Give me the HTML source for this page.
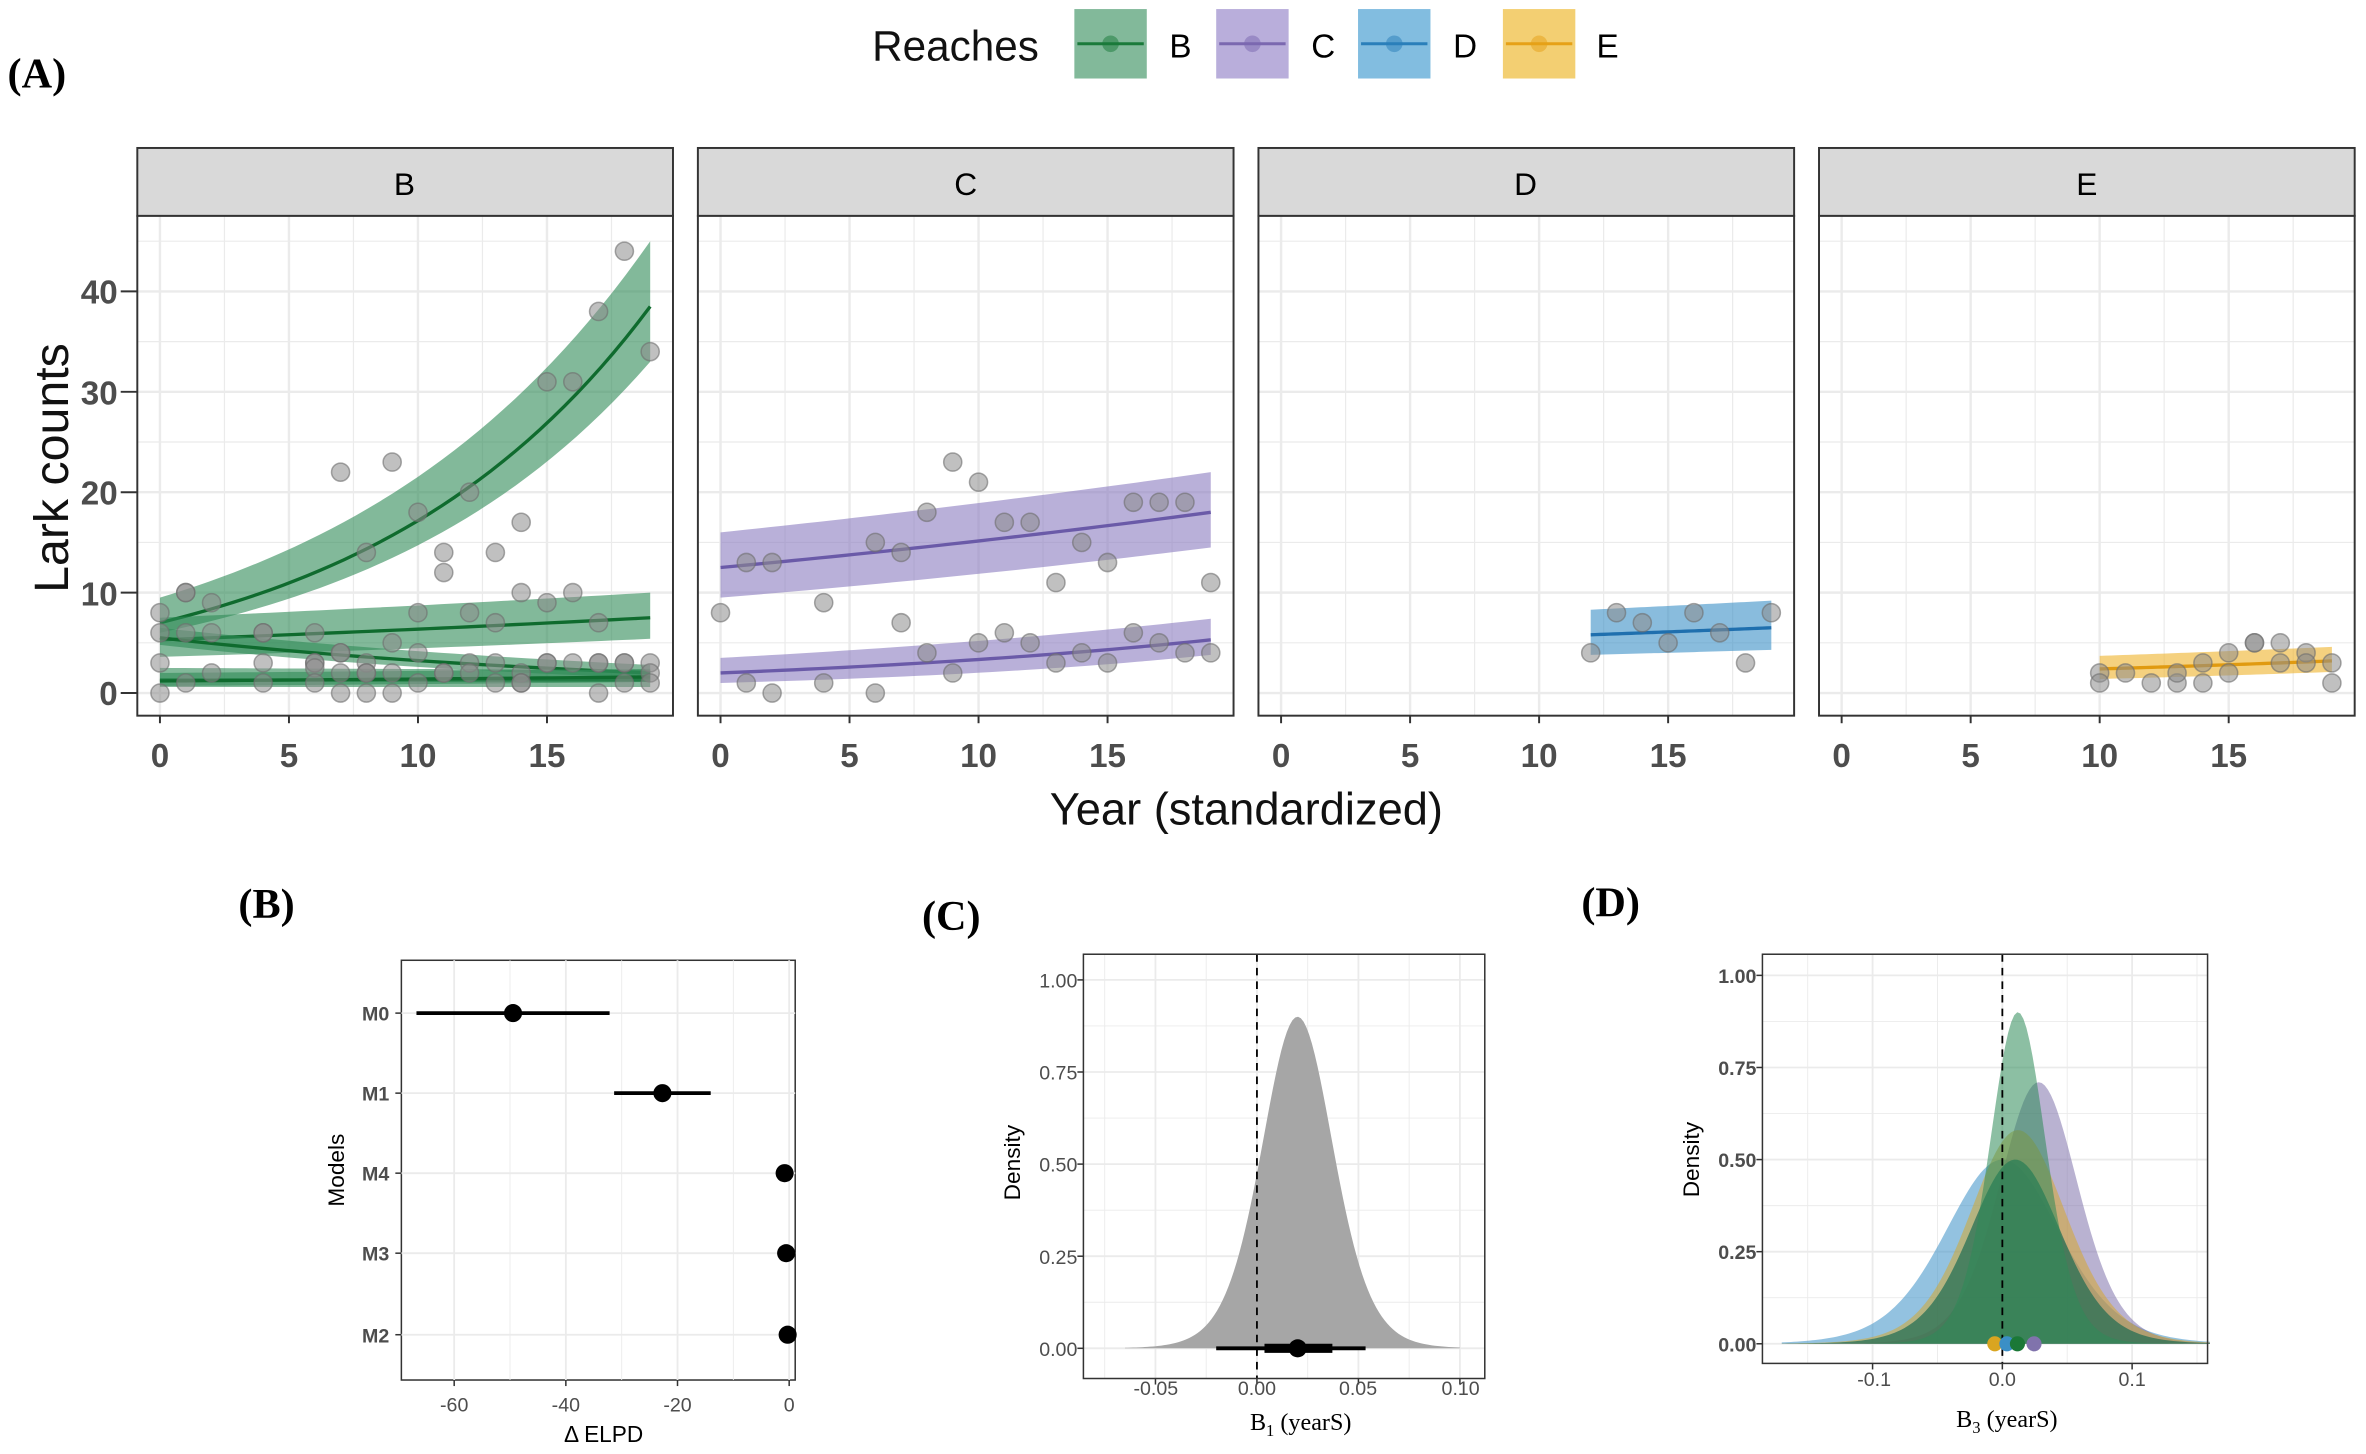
<!DOCTYPE html>
<html><head><meta charset="utf-8"><style>
html,body{margin:0;padding:0;background:#fff;}
svg{display:block;}
text{font-family:"Liberation Sans",sans-serif;}
.s{font-family:"Liberation Serif",serif;font-weight:bold;}
.tk{font-size:22px;font-weight:bold;fill:#4d4d4d;}
.tk2{font-size:13px;fill:#4d4d4d;}
</style></head><body>
<svg id="sv" width="2366" height="1454" viewBox="0 0 1568 963" preserveAspectRatio="none" xmlns="http://www.w3.org/2000/svg">
<rect width="1568" height="963" fill="#fff"/>
<g id="g"></g>
<text class="s" x="5" y="58" font-size="28">(A)</text>
<text x="578" y="40" font-size="28" fill="#111">Reaches</text>
<text x="775" y="38" font-size="22">B</text>
<text x="869" y="38" font-size="22">C</text>
<text x="963" y="38" font-size="22">D</text>
<text x="1058" y="38" font-size="22">E</text>
<text x="268" y="129" font-size="21" text-anchor="middle">B</text>
<text x="640" y="129" font-size="21" text-anchor="middle">C</text>
<text x="1011" y="129" font-size="21" text-anchor="middle">D</text>
<text x="1383" y="129" font-size="21" text-anchor="middle">E</text>
<g class="tk" text-anchor="end">
<text x="78" y="467">0</text><text x="78" y="401">10</text><text x="78" y="334">20</text><text x="78" y="268">30</text><text x="78" y="201">40</text>
</g>
<g class="tk" text-anchor="middle" id="xt"></g>
<text x="0" y="0" font-size="32" transform="translate(45,310) rotate(-90)" text-anchor="middle" fill="#111">Lark counts</text>
<text x="826" y="546" font-size="30" text-anchor="middle" fill="#111">Year (standardized)</text>
<text class="s" x="158" y="608" font-size="28">(B)</text>
<text class="s" x="611" y="616" font-size="28">(C)</text>
<text class="s" x="1048" y="607" font-size="28">(D)</text>
<g class="tk2" font-weight="bold" text-anchor="end">
<text x="258" y="676">M0</text><text x="258" y="729">M1</text><text x="258" y="782">M4</text><text x="258" y="835">M3</text><text x="258" y="889">M2</text>
</g>
<g class="tk2" text-anchor="middle">
<text x="301" y="935">-60</text><text x="375" y="935">-40</text><text x="449" y="935">-20</text><text x="523" y="935">0</text>
</g>
<text x="400" y="955" font-size="15" text-anchor="middle">Δ ELPD</text>
<text font-size="15" transform="translate(228,775) rotate(-90)" text-anchor="middle">Models</text>
<g class="tk2" text-anchor="end">
<text x="714" y="654">1.00</text><text x="714" y="715">0.75</text><text x="714" y="776">0.50</text><text x="714" y="837">0.25</text><text x="714" y="898">0.00</text>
</g>
<g class="tk2" text-anchor="middle">
<text x="766" y="924">-0.05</text><text x="833" y="924">0.00</text><text x="900" y="924">0.05</text><text x="968" y="924">0.10</text>
</g>
<text x="862" y="947" font-size="16" text-anchor="middle" class="s" style="font-weight:normal">B<tspan font-size="11" dy="4">1</tspan><tspan dy="-4"> (yearS)</tspan></text>
<text font-size="15" transform="translate(676,770) rotate(-90)" text-anchor="middle">Density</text>
<g class="tk2" font-weight="bold" text-anchor="end">
<text x="1164" y="651">1.00</text><text x="1164" y="712">0.75</text><text x="1164" y="773">0.50</text><text x="1164" y="834">0.25</text><text x="1164" y="895">0.00</text>
</g>
<g class="tk2" text-anchor="middle">
<text x="1242" y="918">-0.1</text><text x="1327" y="918">0.0</text><text x="1413" y="918">0.1</text>
</g>
<text x="1330" y="945" font-size="16" text-anchor="middle" class="s" style="font-weight:normal">B<tspan font-size="11" dy="4">3</tspan><tspan dy="-4"> (yearS)</tspan></text>
<text font-size="15" transform="translate(1126,768) rotate(-90)" text-anchor="middle">Density</text>
</svg>
<script>
var NS="http://www.w3.org/2000/svg",G=document.getElementById('g');
function el(t,a,p){var e=document.createElementNS(NS,t);for(var k in a)e.setAttribute(k,a[k]);(p||G).appendChild(e);return e;}
function ln(x1,y1,x2,y2,c,w,extra){var a={x1:x1,y1:y1,x2:x2,y2:y2,stroke:c,'stroke-width':w};for(var k in extra)a[k]=extra[k];return el('line',a);}
var lc=[["#2e8b57","#1a7a3a",712],["#b9aedb","#7b68b0",806],["#82bde0","#2a7fba",900],["#f3cf72","#e6a117",996]];
lc.forEach(function(c){el('rect',{x:c[2],y:6,width:48,height:46,fill:c[0],opacity:c[2]==712?0.6:1});ln(c[2]+2,29,c[2]+46,29,c[1],2);el('circle',{cx:c[2]+24,cy:29,r:5,fill:c[1],opacity:0.5,stroke:c[1]});});
var cols=[["#2e8b57","#0f6b2e"],["#8a7cc0","#6a5aa8"],["#3b8fc6","#1f6fae"],["#eeb22a","#e09a10"]];
var data=[
[[0,8],[0,6],[0,3],[0,0],[1,10],[1,10],[1,6],[1,1],[2,9],[2,6],[2,2],[4,6],[4,6],[4,3],[4,1],[6,6],[6,3],[6,3],[6,2.5],[6,1],[7,22],[7,4],[7,4],[7,2],[7,0],[8,14],[8,3],[8,2],[8,2],[8,0],[9,23],[9,5],[9,2],[9,0],[10,18],[10,8],[10,4],[10,1],[11,14],[11,12],[11,2],[11,2],[12,20],[12,8],[12,3],[12,2],[13,14],[13,7],[13,3],[13,1],[14,17],[14,10],[14,2],[14,1],[14,1],[15,31],[15,9],[15,3],[15,3],[16,31],[16,10],[16,3],[17,38],[17,7],[17,3],[17,3],[17,0],[18,44],[18,3],[18,3],[18,1],[19,34],[19,3],[19,2],[19,1]],
[[0,8],[1,13],[1,1],[2,13],[2,0],[4,9],[4,1],[6,15],[6,0],[7,14],[7,7],[8,18],[8,4],[9,23],[9,2],[10,21],[10,5],[11,17],[11,6],[12,17],[12,5],[13,11],[13,3],[14,15],[14,4],[15,13],[15,3],[16,19],[16,6],[17,19],[17,5],[18,19],[18,4],[19,11],[19,4]],
[[12,4],[13,8],[14,7],[15,5],[16,8],[17,6],[18,3],[19,8]],
[[10,2],[10,1],[11,2],[12,1],[13,1],[13,2],[14,3],[14,1],[15,4],[15,2],[16,5],[16,5],[17,5],[17,3],[18,4],[18,3],[19,3],[19,1]]];
var fits=[
[[0,19,7,38.5,6,33,9.5,45],[0,19,5.3,7.5,3.6,5.4,7.5,10],[0,19,5.5,2,4.8,1.5,6.5,2.8],[0,19,1.3,1.3,0.6,0.6,2.5,2.3],[0,19,1.2,1.6,0.7,1.1,2,2.4]],
[[0,19,12.5,18,9.5,14.5,16,22],[0,19,2,5.3,1,3.8,3.5,7.4]],
[[12,19,5.8,6.5,3.8,4.3,8.3,9.2]],
[[10,19,2.4,3.2,1.4,2.1,3.7,4.6]]];
var xt=document.getElementById('xt');
for(var i=0;i<4;i++){
 var x0=91+371.5*i;
 var X=function(t){return x0+15+17.1*t;},Y=function(v){return 459-6.65*v;};
 el('rect',{x:x0,y:98,width:355,height:45,fill:"#d9d9d9",stroke:"#333","stroke-width":1.3});
 el('rect',{x:x0,y:143,width:355,height:331,fill:"#fff"});
 for(var t=-2.5;t<=20;t+=2.5){var xx=X(t);if(xx>x0&&xx<x0+355)ln(xx,143,xx,474,"#ebebeb",t%5==0?1.6:0.8);}
 for(var v=0;v<=45;v+=5){ln(x0,Y(v),x0+355,Y(v),"#ebebeb",v%10==0?1.6:0.8);}
 fits[i].forEach(function(f){var p="",q="",m="";for(var k=0;k<=40;k++){var t=f[0]+(f[1]-f[0])*k/40,r=k/40;
  var lo=f[4]*Math.pow(f[5]/f[4],r),hi=f[6]*Math.pow(f[7]/f[6],r),md=f[2]*Math.pow(f[3]/f[2],r);
  p+=(k?"L":"M")+X(t)+","+Y(hi);q="L"+X(t)+","+Y(lo)+q;m+=(k?"L":"M")+X(t)+","+Y(md);}
  el('path',{d:p+q+"Z",fill:cols[i][0],opacity:0.6});el('path',{d:m,fill:"none",stroke:cols[i][1],"stroke-width":2.2});});
 data[i].forEach(function(d){el('circle',{cx:X(d[0]),cy:Y(d[1]),r:6,fill:"#8c8c8c","fill-opacity":0.55,stroke:"#6e6e6e","stroke-opacity":0.6,"stroke-width":1});});
 el('rect',{x:x0,y:143,width:355,height:331,fill:"none",stroke:"#333","stroke-width":1.3});
 [0,5,10,15].forEach(function(t){ln(X(t),474,X(t),479,"#333",1.3);var e=el('text',{x:X(t),y:508},xt);e.textContent=t;});
}
[0,10,20,30,40].forEach(function(v){ln(80,459-6.65*v,91,459-6.65*v,"#333",1.3);});
var bx=function(v){return 523+3.7*v;};
el('rect',{x:266,y:636,width:261,height:278,fill:"#fff",stroke:"#333","stroke-width":1});
[-60,-50,-40,-30,-20,-10,0].forEach(function(v){ln(bx(v),636,bx(v),914,"#ebebeb",v%20==0?1.2:0.6);});
[671,724,777,830,884].forEach(function(y){ln(266,y,527,y,"#ebebeb",1.2);ln(262,y,266,y,"#333",1);});
[-60,-40,-20,0].forEach(function(v){ln(bx(v),914,bx(v),918,"#333",1);});
ln(276,671,404,671,"#000",2.5);el('circle',{cx:340,cy:671,r:6});
ln(407,724,471,724,"#000",2.5);el('circle',{cx:439,cy:724,r:6});
el('circle',{cx:520,cy:777,r:6});el('circle',{cx:521,cy:830,r:6});el('circle',{cx:522,cy:884,r:6});
var cx=function(v){return 833+1345*v;},cy=function(d){return 893-244*d;};
el('rect',{x:718,y:632,width:266,height:281,fill:"#fff"});
[-0.075,-0.05,-0.025,0,0.025,0.05,0.075,0.1].forEach(function(v,j){ln(cx(v),632,cx(v),913,"#ebebeb",j%2?1.2:0.6);});
[0,0.125,0.25,0.375,0.5,0.625,0.75,0.875,1].forEach(function(d,j){ln(718,cy(d),984,cy(d),"#ebebeb",j%2?0.6:1.2);if(j%2==0)ln(714,cy(d),718,cy(d),"#333",1);});
var p="M"+cx(-0.065)+","+cy(0);for(var k=0;k<=120;k++){var v=-0.065+0.165*k/120,z=(v-0.02)/0.018;p+="L"+cx(v)+","+cy(0.9*Math.pow(1+z*z/10,-5.5));}
el('path',{d:p+"L"+cx(0.1)+","+cy(0)+"Z",fill:"#a6a6a6"});
ln(cx(0),632,cx(0),913,"#000",1.2,{"stroke-dasharray":"5,4"});
ln(806,893,905,893,"#000",2.5);ln(838,893,883,893,"#000",6);el('circle',{cx:860,cy:893,r:6});
el('rect',{x:718,y:632,width:266,height:281,fill:"none",stroke:"#333","stroke-width":1});
[-0.05,0,0.05,0.1].forEach(function(v){ln(cx(v),913,cx(v),917,"#333",1);});
var dx=function(v){return 1327+860*v;},dy=function(d){return 890-244*d;};
el('rect',{x:1168,y:632,width:295,height:271,fill:"#fff"});
[-0.15,-0.1,-0.05,0,0.05,0.1,0.15].forEach(function(v,j){ln(dx(v),632,dx(v),903,"#ebebeb",j%2?1.2:0.6);});
[0,0.125,0.25,0.375,0.5,0.625,0.75,0.875,1].forEach(function(d,j){ln(1168,dy(d),1463,dy(d),"#ebebeb",j%2?0.6:1.2);if(j%2==0)ln(1164,dy(d),1168,dy(d),"#333",1);});
var dens=[[0,0.045,0.5,"#3b8fc6",0.55],[0.028,0.031,0.71,"#8073ac",0.55],[0.012,0.038,0.58,"#d9a520",0.5],[0.01,0.036,0.5,"#1d6b52",0.7],[0.012,0.022,0.9,"#2e8b57",0.55]];
dens.forEach(function(d){var p="M"+dx(-0.17)+","+dy(0);for(var k=0;k<=140;k++){var v=-0.17+0.33*k/140,z=(v-d[0])/d[1];p+="L"+dx(v)+","+dy(d[2]*Math.pow(1+z*z/10,-5.5));}
 el('path',{d:p+"L"+dx(0.16)+","+dy(0)+"Z",fill:d[3],"fill-opacity":d[4]});});
ln(dx(0),632,dx(0),903,"#000",1.2,{"stroke-dasharray":"5,4"});
[["#d9a520",1322],["#3b8fc6",1330],["#8073ac",1348],["#1b7837",1337]].forEach(function(c){el('circle',{cx:c[1],cy:890,r:5,fill:c[0]});});
el('rect',{x:1168,y:632,width:295,height:271,fill:"none",stroke:"#333","stroke-width":1});
[-0.1,0,0.1].forEach(function(v){ln(dx(v),903,dx(v),907,"#333",1);});
</script>
</body></html>
